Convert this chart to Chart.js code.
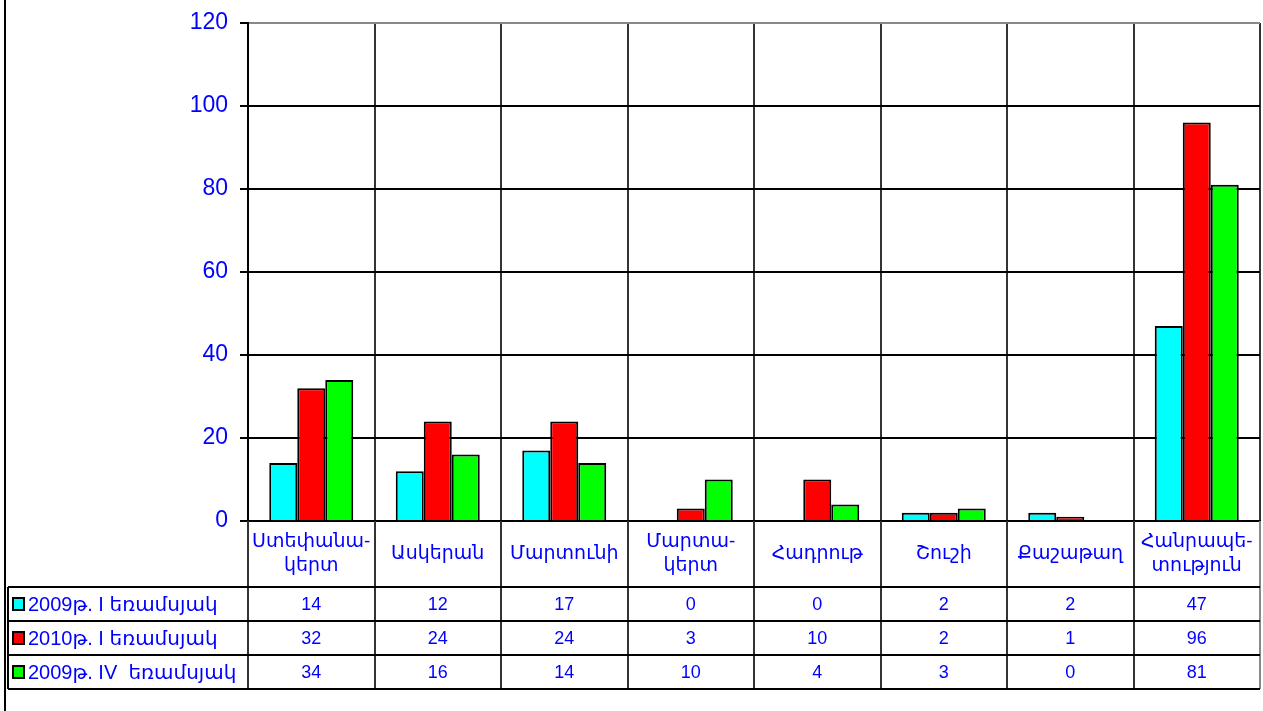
<!DOCTYPE html>
<html>
<head>
<meta charset="utf-8">
<script src="https://cdn.jsdelivr.net/npm/chart.js@4.4.0/dist/chart.umd.min.js"></script>
<style>
    body { margin: 0; background: #fff; }
    #wrap { position: relative; width: 1263px; height: 711px; }
</style>
</head>
<body>
<div id="wrap"><canvas id="myChart"></canvas></div>
<script>
// data
var regions = [["Ստեփանա-", "կերտ"], ["Ասկերան"], ["Մարտունի"], ["Մարտա-", "կերտ"],
    ["Հադրութ"], ["Շուշի"], ["Քաշաթաղ"], ["Հանրապե-", "տություն"]];
var seriesNames = ["2009թ. I եռամսյակ", "2010թ. I եռամսյակ", "2009թ. IV  եռամսյակ"];
var q1_2009 = [14, 12, 17, 0, 0, 2, 2, 47];
var q1_2010 = [32, 24, 24, 3, 10, 2, 1, 96];
var q4_2009 = [34, 16, 14, 10, 4, 3, 0, 81];
var yTicks = [0, 20, 40, 60, 80, 100, 120];

var FONT = '"Liberation Sans", Arial, "DejaVu Sans", sans-serif';
var BLUE = '#0000ff';

// draws the data table under the plot, column edges come from the x scale
var tablePlugin = {
    id: 'dataTable',
    beforeDraw: function (chart) {
        var ctx = chart.ctx;
        ctx.save();
        ctx.fillStyle = '#000';
        ctx.fillRect(4, 0, 2, chart.height);
        ctx.restore();
    },
    afterDraw: function (chart) {
        var ctx = chart.ctx;
        var x = chart.scales.x;
        var area = chart.chartArea;
        var half = (x.getPixelForValue(1) - x.getPixelForValue(0)) / 2;
        var top = area.bottom;
        var labelH = 66, rowH = 34;
        var bottom = top + labelH + rowH * 3;
        var leftCol = 8;
        var rows = [q1_2009, q1_2010, q4_2009];
        var colors = ['#00ffff', '#ff0000', '#00ff00'];

        ctx.save();
        ctx.lineWidth = 2;
        // vertical lines
        for (var i = 0; i <= regions.length; i++) {
            var px = Math.round(x.getPixelForValue(i) - half);
            ctx.strokeStyle = i == regions.length ? '#888' : '#333';
            ctx.beginPath();
            ctx.moveTo(px, top);
            ctx.lineTo(px, bottom);
            ctx.stroke();
        }
        ctx.strokeStyle = '#000';
        ctx.beginPath();
        ctx.moveTo(leftCol, top + labelH);
        ctx.lineTo(leftCol, bottom);
        ctx.stroke();
        // horizontal lines
        for (var r = 0; r <= 3; r++) {
            var py = top + labelH + r * rowH;
            ctx.beginPath();
            ctx.moveTo(leftCol, py);
            ctx.lineTo(area.right, py);
            ctx.stroke();
        }

        ctx.fillStyle = BLUE;
        ctx.textAlign = 'center';
        ctx.textBaseline = 'middle';
        // category labels
        ctx.font = '19px ' + FONT;
        regions.forEach(function (lines, i) {
            var cx = x.getPixelForValue(i);
            var cy = top + labelH / 2;
            if (lines.length == 1) {
                ctx.fillText(lines[0], cx, cy);
            } else {
                ctx.fillText(lines[0], cx, cy - 12);
                ctx.fillText(lines[1], cx, cy + 12);
            }
        });
        // values
        rows.forEach(function (vals, r) {
            var cy = top + labelH + r * rowH + rowH / 2;
            ctx.font = '18px ' + FONT;
            vals.forEach(function (v, i) {
                ctx.fillStyle = BLUE;
                ctx.fillText(String(v), x.getPixelForValue(i), cy + 1);
            });
            // legend keys
            ctx.fillStyle = colors[r];
            ctx.fillRect(13, cy - 6, 11, 12);
            ctx.lineWidth = 2;
            ctx.strokeStyle = '#000';
            ctx.strokeRect(13, cy - 6, 11, 12);
            ctx.fillStyle = BLUE;
            ctx.textAlign = 'left';
            ctx.font = '20px ' + FONT;
            ctx.fillText(seriesNames[r], 28, cy + 1);
            ctx.textAlign = 'center';
        });
        ctx.restore();
    }
};

var ctx = document.getElementById('myChart').getContext('2d');
var chart = new Chart(ctx, {
    type: 'bar',
    data: {
        labels: regions.map(function (l) { return l.join(''); }),
        datasets: [{
            label: seriesNames[0],
            backgroundColor: '#00ffff',
            borderColor: '#000',
            borderWidth: 2,
            data: q1_2009
        }, {
            label: seriesNames[1],
            backgroundColor: '#ff0000',
            borderColor: '#000',
            borderWidth: 2,
            data: q1_2010
        }, {
            label: seriesNames[2],
            backgroundColor: '#00ff00',
            borderColor: '#000',
            borderWidth: 2,
            data: q4_2009
        }]
    },
    options: {
        responsive: true,
        maintainAspectRatio: false,
        animation: false,
        categoryPercentage: 0.664,
        barPercentage: 1,
        layout: { padding: { top: 23, right: 3, bottom: 190, left: 0 } },
        plugins: {
            legend: { display: false },
            tooltip: { enabled: false }
        },
        scales: {
            x: {
                ticks: { display: false },
                grid: {
                    offset: true,
                    drawTicks: false,
                    lineWidth: 2,
                    color: function (c) { return c.index == regions.length ? '#888' : '#333'; }
                },
                border: { display: true, color: '#000', width: 2 },
                afterFit: function (s) { s.height = 0; }
            },
            y: {
                min: 0,
                max: 120,
                afterBuildTicks: function (s) {
                    s.ticks = yTicks.map(function (v) { return { value: v }; });
                },
                ticks: {
                    color: BLUE,
                    padding: 12,
                    font: { family: FONT, size: 23, lineHeight: 1 }
                },
                grid: {
                    lineWidth: 2,
                    tickLength: 8,
                    color: function (c) { return c.tick && c.tick.value == 120 ? '#888' : '#000'; },
                    tickColor: '#000'
                },
                border: { display: true, color: '#000', width: 2 },
                afterFit: function (s) {
                    s.width = 248;
                    s.paddingTop = 0;
                    s.paddingBottom = 0;
                }
            }
        }
    },
    plugins: [tablePlugin]
});
</script>
</body>
</html>
